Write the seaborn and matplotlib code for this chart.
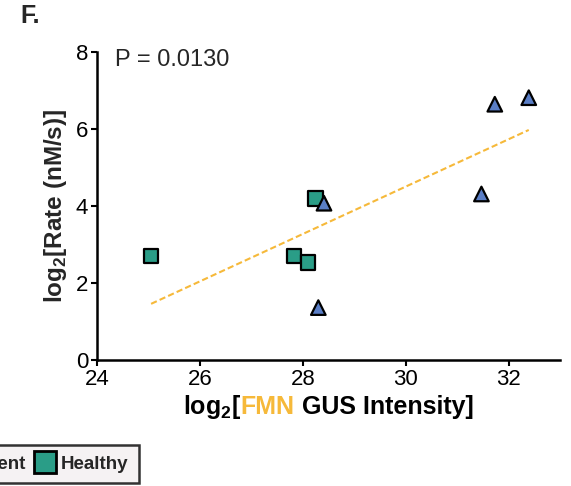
import matplotlib
matplotlib.use("Agg")
import matplotlib.pyplot as plt
import seaborn as sns
import pandas as pd
from matplotlib.offsetbox import TextArea, HPacker, AnchoredOffsetbox
from matplotlib.lines import Line2D

# ---- data ----
healthy_x = [25.05, 27.83, 28.10, 28.25]
healthy_y = [2.70, 2.70, 2.53, 4.19]
patient_x = [28.41, 28.30, 31.47, 31.73, 32.39]
patient_y = [4.07, 1.36, 4.31, 6.64, 6.81]
groups = ["Patient", "Healthy"]
x_ticks = [24, 26, 28, 30, 32]
y_ticks = [0, 2, 4, 6, 8]
p_text = "P = 0.0130"

sns.set_style("ticks")
plt.rcParams["font.family"] = ["Liberation Sans", "DejaVu Sans"]
plt.rcParams["mathtext.fontset"] = "custom"
plt.rcParams["mathtext.rm"] = "Liberation Sans"
plt.rcParams["mathtext.bf"] = "Liberation Sans:bold"

df = pd.DataFrame({
    "x": healthy_x + patient_x,
    "y": healthy_y + patient_y,
    "group": ["Healthy"] * len(healthy_x) + ["Patient"] * len(patient_x),
})

teal = "#2a9d87"
blue = "#5a7ec6"
orange = "#f6b93a"

fig = plt.figure(figsize=(5.71, 4.86), dpi=100)
ax = fig.add_axes([0.170, 0.2593, 0.811, 0.634])

sns.regplot(data=df, x="x", y="y", scatter=False, ci=None, ax=ax,
            line_kws=dict(color=orange, lw=1.5, ls=(0, (3, 1.5))))
sns.scatterplot(data=df, x="x", y="y", hue="group", style="group",
                palette={"Healthy": teal, "Patient": blue},
                markers={"Healthy": "s", "Patient": "^"},
                s=110, edgecolor="black", linewidth=1.6, ax=ax, legend=False,
                zorder=3)

ax.set_xlim(24, 33)
ax.set_ylim(0, 8)
ax.set_xticks(x_ticks)
ax.set_yticks(y_ticks)
ax.tick_params(labelsize=16, width=1.5, length=4.5, pad=2, color="black", labelcolor="black")
for sp in ["left", "bottom"]:
    ax.spines[sp].set_linewidth(1.8)
    ax.spines[sp].set_color("black")
sns.despine(ax=ax)
ax.set_xlabel("")
ax.set_ylabel(r"log$_{\mathbf{2}}$[Rate (nM/s)]", fontsize=17.5, fontweight="bold", labelpad=5)

ax.text(0.039, 1.008, p_text, transform=ax.transAxes, fontsize=17, va="top", ha="left")

# multicolour x label
parts = [
    TextArea(r"log$_{\mathbf{2}}$[", textprops=dict(fontsize=18, fontweight="bold", color="black")),
    TextArea("FMN", textprops=dict(fontsize=18, fontweight="bold", color=orange)),
    TextArea(" GUS Intensity]", textprops=dict(fontsize=18, fontweight="bold", color="black")),
]
box = HPacker(children=parts, align="baseline", pad=0, sep=0)
anch = AnchoredOffsetbox(loc="upper center", child=box, pad=0, frameon=False,
                         bbox_to_anchor=(328 / 571, 1 - 393 / 486),
                         bbox_transform=fig.transFigure, borderpad=0)
fig.add_artist(anch)

fig.text(0.035, 0.992, "F.", fontsize=18, fontweight="bold", va="top", ha="left")

handles = [
    Line2D([], [], marker="^", ls="", markerfacecolor=blue, markeredgecolor="black",
           markeredgewidth=2, markersize=16),
    Line2D([], [], marker="s", ls="", markerfacecolor=teal, markeredgecolor="black",
           markeredgewidth=2, markersize=16),
]
leg = fig.legend(handles, groups, loc="lower right", ncol=2,
                 bbox_to_anchor=(139 / 571, 3 / 486), bbox_transform=fig.transFigure,
                 prop=dict(size=13.5, weight="bold"), frameon=True, fancybox=False,
                 handletextpad=0.25, columnspacing=0.4, handlelength=1.2,
                 borderpad=0.55, borderaxespad=0)
leg.get_frame().set_facecolor("#f3eff0")
leg.get_frame().set_edgecolor("black")
leg.get_frame().set_linewidth(1.8)

fig.savefig("out.png", dpi=100)
